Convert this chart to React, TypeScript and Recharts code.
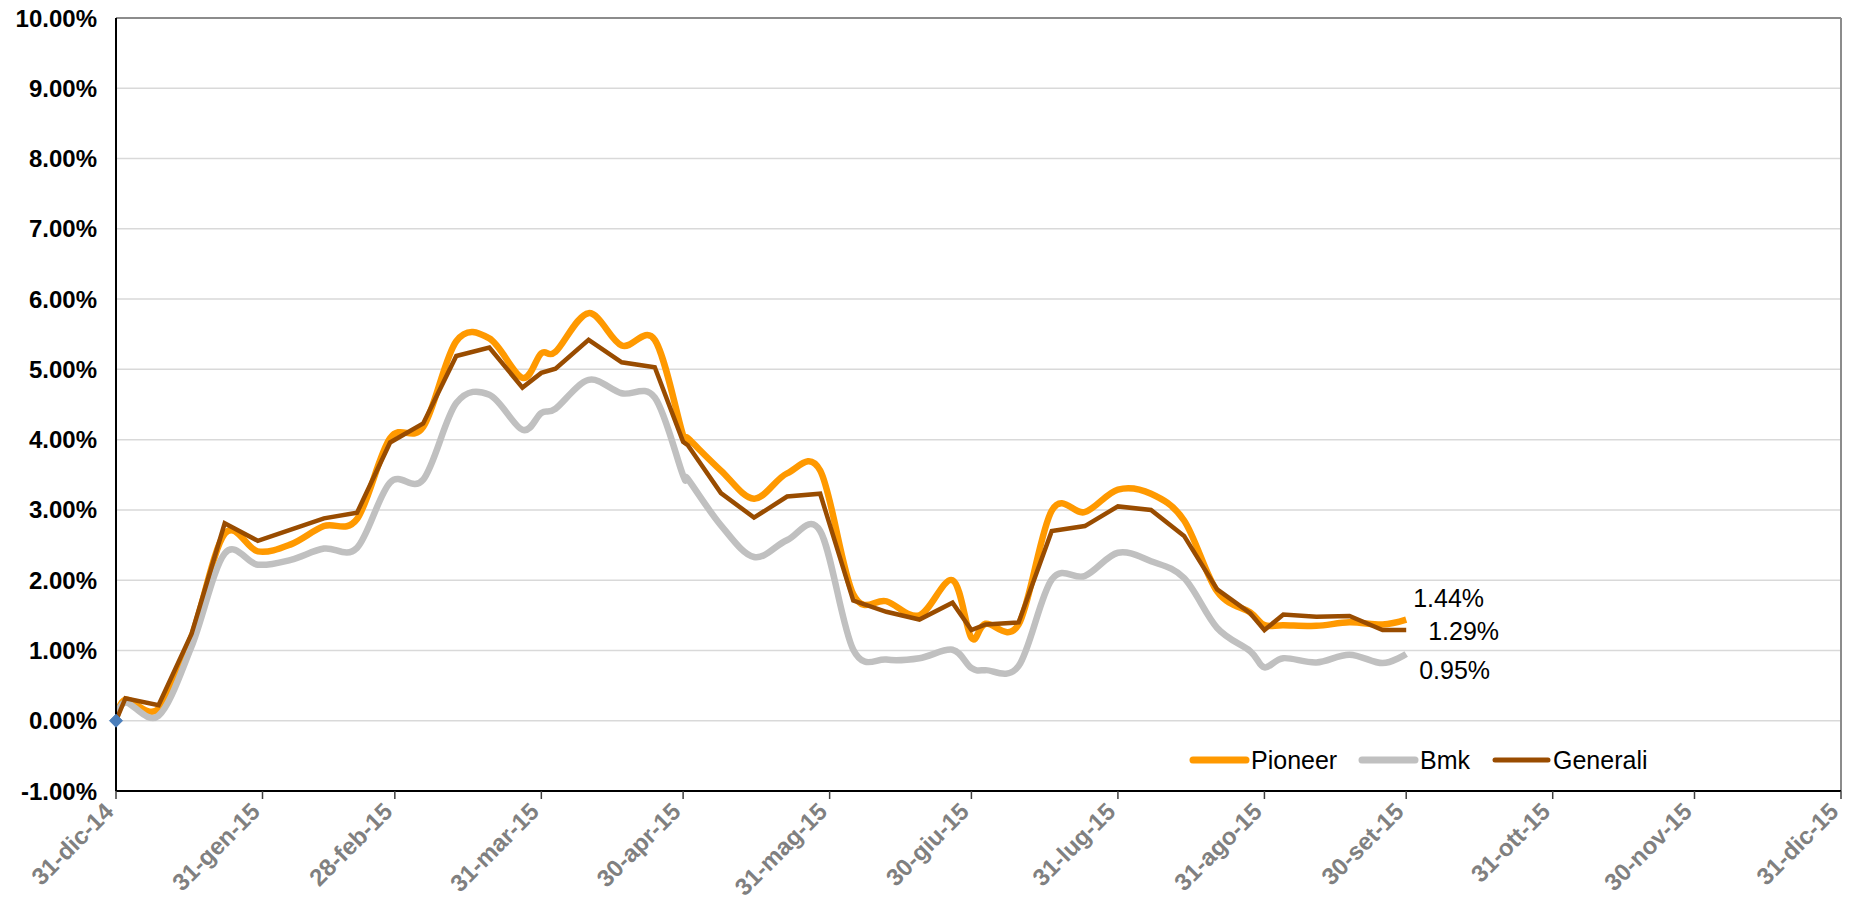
import React from 'react';
import {
  LineChart, Line, XAxis, YAxis, CartesianGrid, ReferenceLine, ReferenceDot, LabelList, Legend,
} from 'recharts';

// ---------- DATA ----------
const dates = [
  '2014-12-31', '2015-01-02', '2015-01-09', '2015-01-16', '2015-01-23', '2015-01-30',
  '2015-02-06', '2015-02-13', '2015-02-20', '2015-02-27',
  '2015-03-06', '2015-03-13', '2015-03-20', '2015-03-27', '2015-03-31',
  '2015-04-03', '2015-04-10', '2015-04-17', '2015-04-24', '2015-04-30',
  '2015-05-01', '2015-05-08', '2015-05-15', '2015-05-22', '2015-05-29',
  '2015-06-05', '2015-06-12', '2015-06-19', '2015-06-26', '2015-06-30',
  '2015-07-03', '2015-07-10', '2015-07-17', '2015-07-24', '2015-07-31',
  '2015-08-07', '2015-08-14', '2015-08-21', '2015-08-28', '2015-08-31',
  '2015-09-04', '2015-09-11', '2015-09-18', '2015-09-25', '2015-09-30',
];

const pioneer = [
  0, 0.30, 0.17, 1.20, 2.66, 2.41,
  2.51, 2.77, 2.87, 4.02,
  4.18, 5.40, 5.44, 4.88, 5.23,
  5.25, 5.80, 5.34, 5.42, 4.06,
  4.02, 3.56, 3.16, 3.52, 3.56,
  1.80, 1.70, 1.50, 2.00, 1.18,
  1.38, 1.37, 2.99, 2.97, 3.29,
  3.23, 2.85, 1.84, 1.54, 1.36,
  1.36, 1.35, 1.40, 1.37, 1.44,
];

const bmk = [
  0, 0.26, 0.07, 1.06, 2.38, 2.22,
  2.29, 2.45, 2.46, 3.39,
  3.43, 4.52, 4.64, 4.14, 4.38,
  4.44, 4.85, 4.66, 4.60, 3.49,
  3.44, 2.78, 2.33, 2.57, 2.70,
  1.01, 0.87, 0.89, 1.01, 0.75,
  0.72, 0.78, 2.01, 2.06, 2.39,
  2.27, 2.03, 1.32, 0.99, 0.76,
  0.89, 0.83, 0.94, 0.82, 0.95,
];

const generali = [
  0, 0.32, 0.22, 1.24, 2.81, 2.56,
  2.72, 2.88, 2.96, 3.96,
  4.23, 5.19, 5.31, 4.74, 4.95,
  5.01, 5.42, 5.10, 5.03, 3.97,
  3.92, 3.24, 2.89, 3.19, 3.23,
  1.71, 1.55, 1.44, 1.68, 1.29,
  1.37, 1.40, 2.70, 2.77, 3.05,
  3.00, 2.63, 1.87, 1.53, 1.29,
  1.51, 1.48, 1.49, 1.29, 1.29,
];

const tickDates = [
  '2014-12-31', '2015-01-31', '2015-02-28', '2015-03-31', '2015-04-30', '2015-05-31', '2015-06-30',
  '2015-07-31', '2015-08-31', '2015-09-30', '2015-10-31', '2015-11-30', '2015-12-31',
];
const tickLabels = [
  '31-dic-14', '31-gen-15', '28-feb-15', '31-mar-15', '30-apr-15', '31-mag-15', '30-giu-15',
  '31-lug-15', '31-ago-15', '30-set-15', '31-ott-15', '30-nov-15', '31-dic-15',
];
const yTicks = [-1, 0, 1, 2, 3, 4, 5, 6, 7, 8, 9, 10];

const seriesNames = ['Pioneer', 'Bmk', 'Generali'];
const seriesColors = ['#FF9900', '#C0C0C0', '#994C00'];

// ---------- HELPERS ----------
const BASE = Date.UTC(2014, 11, 31);
const dayIndex = (s: string) => {
  const [y, m, d] = s.split('-').map(Number);
  return Math.round((Date.UTC(y, m - 1, d) - BASE) / 86400000);
};
const days = dates.map(dayIndex);
const tickDays = tickDates.map(dayIndex);
const data = days.map((t, i) => ({ t, pioneer: pioneer[i], bmk: bmk[i], generali: generali[i] }));
const last = dates.length - 1;

const FONT = "'Liberation Sans', Arial, sans-serif";
const pct = (v: number) => `${v.toFixed(2)}%`;

// Cardinal (Catmull-Rom style) smoothing similar to Excel's smoothed lines
function cardinalPoint(that: any, x: number, y: number) {
  that._context.bezierCurveTo(
    that._x1 + that._k * (that._x2 - that._x0),
    that._y1 + that._k * (that._y2 - that._y0),
    that._x2 + that._k * (that._x1 - x),
    that._y2 + that._k * (that._y1 - y),
    that._x2,
    that._y2,
  );
}
class Cardinal {
  _context: any; _k: number; _line: number = NaN; _point = 0;
  _x0 = NaN; _x1 = NaN; _x2 = NaN; _y0 = NaN; _y1 = NaN; _y2 = NaN;
  constructor(context: any, tension: number) { this._context = context; this._k = (1 - tension) / 6; }
  areaStart() { this._line = 0; }
  areaEnd() { this._line = NaN; }
  lineStart() {
    this._x0 = this._x1 = this._x2 = this._y0 = this._y1 = this._y2 = NaN;
    this._point = 0;
  }
  lineEnd() {
    switch (this._point) {
      case 2: this._context.lineTo(this._x2, this._y2); break;
      case 3: cardinalPoint(this, this._x1, this._y1); break;
    }
    if (this._line || (this._line !== 0 && this._point === 1)) this._context.closePath();
    this._line = 1 - this._line;
  }
  point(x: number, y: number) {
    x = +x; y = +y;
    switch (this._point) {
      case 0: this._point = 1; this._line ? this._context.lineTo(x, y) : this._context.moveTo(x, y); break;
      case 1: this._point = 2; this._x1 = x; this._y1 = y; break;
      case 2: this._point = 3; cardinalPoint(this, x, y); break;
      default: cardinalPoint(this, x, y); break;
    }
    this._x0 = this._x1; this._x1 = this._x2; this._x2 = x;
    this._y0 = this._y1; this._y1 = this._y2; this._y2 = y;
  }
}
const smoothCurve: any = (context: any) => new Cardinal(context, 0);

const XTick = (props: any) => {
  const { x, y, payload } = props;
  const idx = tickDays.indexOf(payload.value);
  const ax = x - 1;
  const ay = y + 12;
  return (
    <text
      x={ax}
      y={ay}
      transform={`rotate(-45, ${ax}, ${ay})`}
      textAnchor="end"
      fill="#808080"
      fontWeight="bold"
      fontSize={24}
      fontFamily={FONT}
    >
      {idx >= 0 ? tickLabels[idx] : ''}
    </text>
  );
};

const endLabel = (dx: number, dy: number) => (props: any) => {
  const { x, y, value, index } = props;
  if (index !== last) return null;
  return (
    <text x={x + dx} y={y + dy} fill="#000" fontSize={25} fontFamily={FONT} textAnchor="start">
      {pct(Number(value))}
    </text>
  );
};

const legendLeft = [0, 169, 302];
const legendStroke = [7, 7, 5];
const LegendContent = () => (
  <div style={{ position: 'relative', width: 420, height: 30, fontFamily: FONT, fontSize: 25, color: '#000' }}>
    {seriesNames.map((n, i) => (
      <div key={n} style={{ position: 'absolute', left: legendLeft[i], top: 0, height: 30, display: 'flex', alignItems: 'center', whiteSpace: 'nowrap' }}>
        <svg width={62} height={14} style={{ display: 'block' }}>
          <line
            x1={5}
            x2={58}
            y1={7}
            y2={7}
            stroke={seriesColors[i]}
            strokeWidth={legendStroke[i]}
            strokeLinecap="round"
          />
        </svg>
        <span style={{ marginLeft: 1, lineHeight: '30px' }}>{n}</span>
      </div>
    ))}
  </div>
);

const Diamond = (props: any) => {
  const { cx, cy } = props;
  const r = 6.5;
  return (
    <polygon
      points={`${cx},${cy - r} ${cx + r},${cy} ${cx},${cy + r} ${cx - r},${cy}`}
      fill="#4A7EBB"
      stroke="#4A7EBB"
    />
  );
};

export default function App() {
  return (
    <div style={{ position: 'absolute', left: 0, top: 0, width: 1866, height: 900, background: '#fff' }}>
      <LineChart
        width={1866}
        height={900}
        data={data}
        margin={{ top: 18, right: 25, left: 16, bottom: 9 }}
      >
        <CartesianGrid horizontal vertical={false} stroke="#D9D9D9" strokeWidth={1.5} />
        <XAxis
          dataKey="t"
          type="number"
          domain={[0, 365]}
          ticks={tickDays}
          interval={0}
          height={100}
          tick={<XTick />}
          tickSize={8}
          tickMargin={2}
          axisLine={{ stroke: '#000', strokeWidth: 2 }}
          tickLine={{ stroke: '#404040', strokeWidth: 1.5 }}
          allowDataOverflow
        />
        <YAxis
          type="number"
          domain={[-1, 10]}
          ticks={yTicks}
          interval={0}
          width={100}
          tickFormatter={(v: number) => pct(v)}
          tick={{ fill: '#000', fontSize: 24, fontWeight: 'bold', fontFamily: FONT }}
          tickLine={false}
          tickSize={0}
          tickMargin={19}
          axisLine={{ stroke: '#000', strokeWidth: 2 }}
          allowDataOverflow
        />
        <ReferenceLine y={10} stroke="#8C8C8C" strokeWidth={2} />
        <ReferenceLine x={365} stroke="#8C8C8C" strokeWidth={2} />
        <Legend
          layout="horizontal"
          align="center"
          verticalAlign="middle"
          content={<LegendContent />}
          wrapperStyle={{ position: 'absolute', left: 1188, top: 745, width: 'auto', height: 'auto' }}
        />
        <Line
          dataKey="pioneer"
          name={seriesNames[0]}
          type={smoothCurve}
          stroke={seriesColors[0]}
          strokeWidth={6.5}
          dot={false}
          activeDot={false}
          isAnimationActive={false}
        >
          <LabelList dataKey="pioneer" content={endLabel(7, -13)} />
        </Line>
        <Line
          dataKey="bmk"
          name={seriesNames[1]}
          type={smoothCurve}
          stroke={seriesColors[1]}
          strokeWidth={6.5}
          dot={false}
          activeDot={false}
          isAnimationActive={false}
        >
          <LabelList dataKey="bmk" content={endLabel(13, 25)} />
        </Line>
        <Line
          dataKey="generali"
          name={seriesNames[2]}
          type="linear"
          stroke={seriesColors[2]}
          strokeWidth={4.5}
          dot={false}
          activeDot={false}
          isAnimationActive={false}
        >
          <LabelList dataKey="generali" content={endLabel(22, 10)} />
        </Line>
        <ReferenceDot x={days[0]} y={generali[0]} r={6} shape={<Diamond />} />
      </LineChart>
    </div>
  );
}
